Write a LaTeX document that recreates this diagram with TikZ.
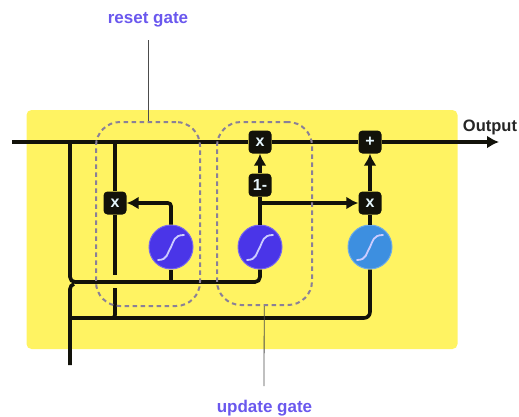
\documentclass[tikz,border=0pt]{standalone}
\usepackage{fontspec}
\setmainfont{Liberation Sans}
\usetikzlibrary{positioning}
\usetikzlibrary{arrows.meta}
\definecolor{cellyellow}{HTML}{FFF362}
\definecolor{gatepurple}{HTML}{4A35E8}
\definecolor{gateblue}{HTML}{3D8FE0}
\definecolor{labelpurple}{HTML}{6A58EE}
\definecolor{dashgray}{HTML}{8A8098}
\definecolor{linkblack}{HTML}{12120A}
\tikzset{
    myop/.style = {rectangle, rounded corners=4pt, fill=linkblack, text=white!90!cyan, align=center, inner sep=0pt, minimum width=23pt, minimum height=23pt, font=\bfseries\fontsize{16}{16}\selectfont},
    mygate/.style = {circle, draw=#1!75!white, line width=1pt, fill=#1, inner sep=0pt, minimum size=44pt,
        path picture={\draw[shift={(path picture bounding box.center)}, white!80!blue, line width=1.8pt, line cap=round] (-13pt,-13pt) .. controls (-3pt,-13pt) and (-4pt,-6pt) .. (0pt,0pt) .. controls (3pt,6pt) and (3pt,12pt) .. (13pt,12pt);}},
    mybox/.style = {draw=dashgray, line width=2pt, dash pattern=on 4.5pt off 3.5pt, rounded corners=24pt},
    mylabel/.style = {text=labelpurple, font=\bfseries\fontsize{17}{17}\selectfont},
    edgen/.style = {line width=3.6pt, linkblack},
    edgea/.style = {line width=3.6pt, linkblack, -{Latex[length=12pt,width=13pt]}},
    edgel/.style = {line width=0.8pt, black!70},
}

\begin{document}
\begin{tikzpicture}[x=1pt,y=-1pt]
\useasboundingbox (0,0) rectangle (519,416);
\node[fill=cellyellow, rounded corners=5pt, minimum width=431pt, minimum height=239pt, inner sep=0pt] at (242,229.5) (cell) {};
%
\node[mygate=gatepurple] at (171,247) (g1) {};
\node[mygate=gatepurple] at (260,247) (g2) {};
\node[mygate=gateblue] at (370,247) (g3) {};
\node[myop] at (115,203) (m1) {x};
\node[myop] at (260,142) (m2) {x};
\node[myop] at (260,185) (inv) {1-};
\node[myop] at (370,203) (m3) {x};
\node[myop] at (370,142) (add) {+};
%
\coordinate (in) at (12,142);
\coordinate (out) at (499,142);
\coordinate (t1) at (70,142);
\coordinate (t2) at (115,142);
\coordinate (c1) at (70,282);
\coordinate (c2) at (260,282);
\coordinate (c3) at (171,282);
\coordinate (h1) at (115,275);
\coordinate (h2) at (115,288);
\coordinate (h3) at (115,318);
\coordinate (b0) at (70,365);
\coordinate (b1) at (72,318);
\coordinate (b2) at (74,284);
\coordinate (b3) at (370,318);
\coordinate (k1) at (260,203);
%
\draw[edgen] (in) -- (m2);
\draw[edgen] (m2) -- (add);
\draw[edgea] (add) -- (out);
\draw[edgen, rounded corners=5pt] (t1) -- (c1) -- (c2) -- (g2);
\draw[edgen] (c3) -- (g1);
\draw[edgen] (t2) -- (m1);
\draw[edgen] (m1) -- (h1);
\draw[edgen, rounded corners=3pt] (h2) -- (h3) -- (b1);
\draw[edgen, rounded corners=4pt] (b0) -- (70,285) -- (b2);
\draw[edgen, rounded corners=6pt] (b1) -- (b3) -- (g3);
\draw[edgea, rounded corners=3pt] (g1) |- (m1);
\draw[edgea] (inv) -- (m2);
\draw[edgen] (g2) -- (inv);
\draw[edgea] (k1) -- (m3);
\draw[edgen] (g3) -- (m3);
\draw[edgea] (m3) -- (add);
%
\node[mybox, minimum width=104pt, minimum height=184pt, inner sep=0pt] at (148,214) (reset) {};
\node[mybox, minimum width=95pt, minimum height=183pt, inner sep=0pt] at (264.5,213.5) (update) {};
\node[mylabel] at (148,20) (lreset) {reset gate};
\node[mylabel] at (264.5,408) (lupdate) {update gate};
\node[font=\bfseries\fontsize{16.5}{16.5}\selectfont, text=black!85] at (490,127) (lout) {Output};
\coordinate (r0) at (148,40);
\coordinate (u0) at (264,386);
\draw[edgel] (r0) -- (reset);
\draw[edgel] (update) -- (u0);
\end{tikzpicture}
\end{document}
